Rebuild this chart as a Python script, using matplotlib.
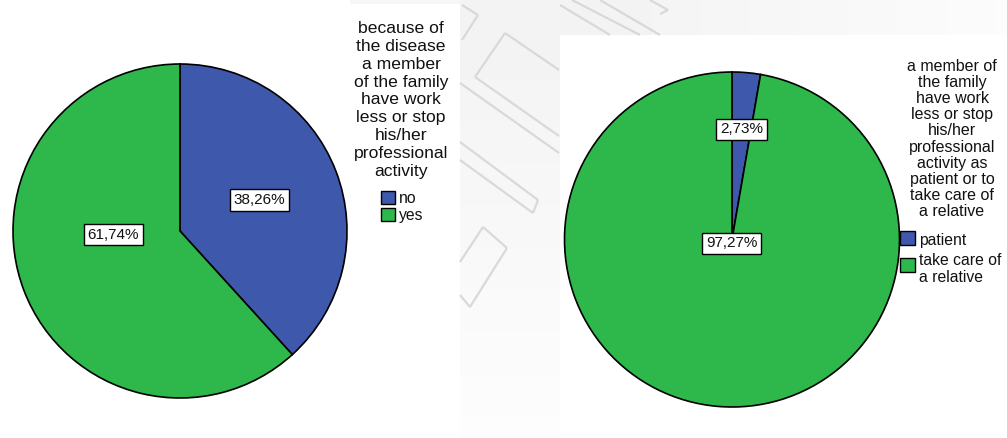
import matplotlib
matplotlib.use("Agg")
import matplotlib.pyplot as plt
from matplotlib.patches import Rectangle
import numpy as np

plt.rcParams['font.family'] = ['Liberation Sans', 'DejaVu Sans']

# ---- data -------------------------------------------------------------
left_title = ("because of\nthe disease\na member\nof the family\nhave work\n"
              "less or stop\nhis/her\nprofessional\nactivity")
left_labels = ["no", "yes"]
left_values = [38.26, 61.74]

right_title = ("a member of\nthe family\nhave work\nless or stop\nhis/her\n"
               "professional\nactivity as\npatient or to\ntake care of\na relative")
right_labels = ["patient", "take care of\na relative"]
right_values = [2.73, 97.27]

colors = ["#3e58ac", "#2eb84b"]

W, H = 1007, 438
fig = plt.figure(figsize=(W / 100, H / 100), dpi=100)
ax = fig.add_axes([0, 0, 1, 1])


def Y(y):
    """image-style y (from top) to axis y (from bottom)"""
    return H - y


# ---- background panels ------------------------------------------------
fig.patch.set_facecolor("white")
# soft grey strip between the two panels, fading out downwards
grad_v = np.linspace(0.95, 0.99, 64).reshape(-1, 1)
ax.imshow(np.repeat(grad_v, 2, axis=1), cmap="gray", vmin=0, vmax=1,
          extent=(460, 560, 0, H), origin="upper", aspect="auto", zorder=0,
          interpolation="bilinear")
# strip above the right panel, fading out to the right
grad_h = np.linspace(0.95, 0.985, 64).reshape(1, -1)
ax.imshow(np.repeat(grad_h, 2, axis=0), cmap="gray", vmin=0, vmax=1,
          extent=(560, W, Y(35), H), origin="upper", aspect="auto", zorder=0,
          interpolation="bilinear")
ax.add_patch(Rectangle((350, Y(4)), 110, 4, facecolor="#f6f6f6", edgecolor="none", zorder=0))
deco = [
    [(505, 33), (475, 77)], [(475, 77), (559, 136)], [(505, 33), (559, 70)],
    [(460, 83), (559, 153)], [(460, 142), (538, 200)], [(460, 160), (533, 213)],
    [(538, 200), (533, 213)],
    [(483, 227), (507, 248)], [(507, 248), (470, 307)], [(483, 227), (460, 262)],
    [(460, 295), (470, 307)],
    [(462, 5), (478, 15)], [(478, 15), (462, 40)],
    [(560, 5), (610, 35)], [(572, 0), (640, 35)], [(600, 0), (660, 35)],
    [(650, 0), (668, 10)], [(668, 10), (660, 14)],
]
for (x0, y0), (x1, y1) in deco:
    ax.plot([x0, x1], [Y(y0), Y(y1)], color="#d6d6d6", lw=1.6, alpha=0.9,
            zorder=0.5, solid_capstyle="butt")


# ---- pies -------------------------------------------------------------
def draw_pie(values, center, radius, label_pos):
    wedges, _ = ax.pie(values, colors=colors, startangle=90, counterclock=False,
                       center=center, radius=radius, frame=True,
                       wedgeprops=dict(edgecolor="black", linewidth=1.2))
    for w, v, (dang, frac) in zip(wedges, values, label_pos):
        ang = np.deg2rad((w.theta1 + w.theta2) / 2 + dang)
        x = center[0] + frac * radius * np.cos(ang)
        y = center[1] + frac * radius * np.sin(ang)
        ax.text(x, y, f"{v:.2f}%".replace(".", ","), ha="center", va="center",
                fontsize=11, zorder=5, color="#111111",
                bbox=dict(boxstyle="square,pad=0.25", facecolor="white",
                          edgecolor="black", linewidth=1.0))
    return wedges


draw_pie(left_values, (180, Y(231)), 167, [(0, 0.51), (-18, 0.40)])
draw_pie(right_values, (732, Y(239.5)), 167.5, [(0, 0.66), (-2, 0.024)])


# ---- legends ----------------------------------------------------------
def draw_legend(title, labels, title_xy, fs, lsp, box_x, box_tops, box_size, text_ys):
    ax.text(title_xy[0], Y(title_xy[1]), title, ha="center", va="center",
            multialignment="center", fontsize=fs, linespacing=lsp, color="#111111")
    for c, lab, top, ty in zip(colors, labels, box_tops, text_ys):
        ax.add_patch(Rectangle((box_x, Y(top + box_size[1])), box_size[0], box_size[1],
                               facecolor=c, edgecolor="black", lw=1.0, zorder=4))
        ax.text(box_x + box_size[0] + 4, Y(ty), lab, ha="left", va="top",
                fontsize=11.3, linespacing=1.2, color="#111111")


draw_legend(left_title, left_labels, (401, 100), 12.6, 1.23,
            381, [191, 208], (14, 13), [191, 208])
draw_legend(right_title, right_labels, (952, 139), 11.5, 1.10,
            900, [231, 258], (15, 14), [233, 253])

ax.set_xlim(0, W)
ax.set_ylim(0, H)
ax.set_aspect("auto")
ax.axis("off")

fig.savefig("out.png", dpi=100, facecolor=fig.get_facecolor())
